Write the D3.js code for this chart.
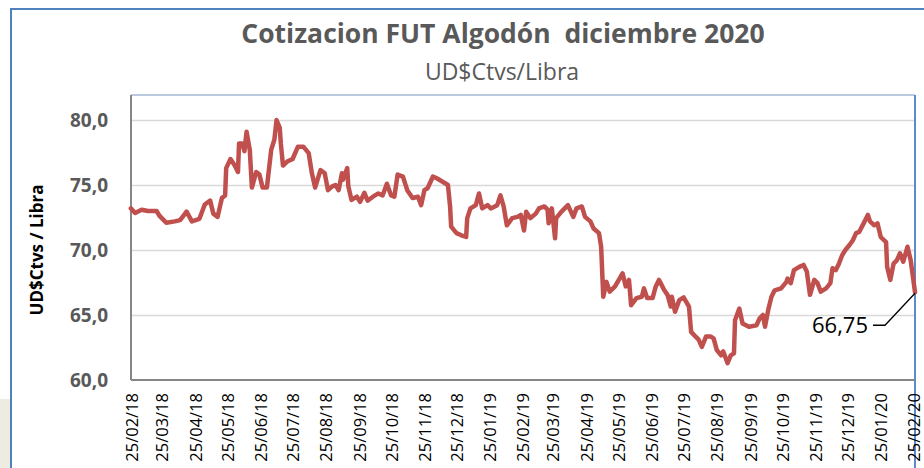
<!DOCTYPE html>
<html lang="es">
<head>
<meta charset="utf-8">
<title>Cotizacion FUT Algodón</title>
<script src="https://cdn.jsdelivr.net/npm/d3@7"></script>
<style>
  body { margin: 0; background: #ffffff; }
  text { font-family: "Open Sans", "Noto Sans", sans-serif; }
  .grille line { stroke: #d9d9d9; stroke-width: 1.5px; }
  .grille path { display: none; }
  .axeY path, .axeY line { display: none; }
  .axeY text { fill: #595959; font-size: 19px; font-weight: bold; }
  .axeX path, .axeX line { display: none; }
  .axeX text { fill: #000000; font-size: 16.5px; }
</style>
</head>
<body>
<svg width="924" height="468"></svg>
<script>
// dates (trading days) and values in UD$Ctvs/Libra
const fechas = [
  "2018-02-23","2018-02-27","2018-03-05","2018-03-11","2018-03-19","2018-03-22","2018-03-28","2018-04-05",
  "2018-04-10","2018-04-16","2018-04-21","2018-04-28","2018-05-03","2018-05-08","2018-05-11","2018-05-15",
  "2018-05-19","2018-05-22","2018-05-23","2018-05-27","2018-05-31","2018-06-03","2018-06-04","2018-06-07",
  "2018-06-09","2018-06-11","2018-06-14","2018-06-16","2018-06-20","2018-06-23","2018-06-26","2018-06-30",
  "2018-07-04","2018-07-07","2018-07-09","2018-07-12","2018-07-13","2018-07-15","2018-07-19","2018-07-24",
  "2018-07-29","2018-08-03","2018-08-08","2018-08-11","2018-08-14","2018-08-19","2018-08-23","2018-08-26",
  "2018-08-30","2018-09-02","2018-09-05","2018-09-08","2018-09-09","2018-09-13","2018-09-14","2018-09-17",
  "2018-09-22","2018-09-25","2018-09-29","2018-10-02","2018-10-07","2018-10-12","2018-10-16","2018-10-20",
  "2018-10-24","2018-10-27","2018-10-30","2018-11-04","2018-11-08","2018-11-13","2018-11-18","2018-11-21",
  "2018-11-24","2018-11-27","2018-12-02","2018-12-06","2018-12-11","2018-12-16","2018-12-18","2018-12-19",
  "2018-12-24","2018-12-28","2019-01-02","2019-01-03","2019-01-06","2019-01-11","2019-01-14","2019-01-17",
  "2019-01-22","2019-01-25","2019-01-31","2019-02-03","2019-02-06","2019-02-09","2019-02-14","2019-02-19",
  "2019-02-22","2019-02-25","2019-02-27","2019-03-03","2019-03-08","2019-03-11","2019-03-16","2019-03-19",
  "2019-03-20","2019-03-23","2019-03-26","2019-03-27","2019-04-01","2019-04-07","2019-04-12","2019-04-15",
  "2019-04-20","2019-04-23","2019-04-28","2019-05-01","2019-05-06","2019-05-08","2019-05-10","2019-05-13",
  "2019-05-16","2019-05-21","2019-05-28","2019-05-31","2019-06-03","2019-06-05","2019-06-10","2019-06-15",
  "2019-06-17","2019-06-20","2019-06-25","2019-06-28","2019-07-01","2019-07-06","2019-07-09","2019-07-12",
  "2019-07-13","2019-07-16","2019-07-20","2019-07-24","2019-07-29","2019-07-31","2019-08-04","2019-08-07",
  "2019-08-10","2019-08-14","2019-08-18","2019-08-21","2019-08-24","2019-08-28","2019-08-30","2019-09-03",
  "2019-09-06","2019-09-09","2019-09-10","2019-09-14","2019-09-17","2019-09-23","2019-09-30","2019-10-03",
  "2019-10-06","2019-10-08","2019-10-11","2019-10-14","2019-10-17","2019-10-23","2019-10-28","2019-10-29",
  "2019-11-01","2019-11-04","2019-11-09","2019-11-13","2019-11-16","2019-11-19","2019-11-23","2019-11-26",
  "2019-11-29","2019-12-04","2019-12-08","2019-12-10","2019-12-13","2019-12-16","2019-12-19","2019-12-22",
  "2019-12-26","2019-12-29","2020-01-01","2020-01-04","2020-01-09","2020-01-12","2020-01-14","2020-01-18",
  "2020-01-21","2020-01-24","2020-01-29","2020-01-30","2020-02-02","2020-02-05","2020-02-08","2020-02-11",
  "2020-02-14","2020-02-18","2020-02-21","2020-02-25"
];
const cotizacion = [
  73.2, 72.85, 73.1, 73.0, 73.0, 72.6, 72.1, 72.2,
  72.3, 72.95, 72.2, 72.4, 73.5, 73.8, 72.8, 72.55,
  74.0, 74.2, 76.3, 77.0, 76.5, 76.0, 78.2, 78.2,
  77.6, 79.1, 77.7, 74.8, 76.0, 75.8, 74.8, 74.8,
  77.7, 78.5, 80.0, 79.4, 78.2, 76.5, 76.8, 77.0,
  77.95, 77.95, 77.45, 75.9, 74.8, 76.15, 75.9, 74.6,
  74.9, 75.0, 74.6, 75.9, 75.4, 76.3, 74.9, 73.85,
  74.1, 73.7, 74.4, 73.8, 74.1, 74.35, 74.2, 75.1,
  74.2, 74.1, 75.8, 75.65, 74.6, 74.0, 74.1, 73.45,
  74.6, 74.75, 75.65, 75.5, 75.25, 75.0, 73.35, 71.8,
  71.3, 71.15, 71.0, 72.45, 73.2, 73.45, 74.35, 73.2,
  73.45, 73.2, 73.45, 74.2, 73.35, 71.9, 72.45, 72.55,
  72.7, 71.5, 72.95, 72.45, 72.8, 73.2, 73.35, 73.1,
  72.05, 73.2, 70.9, 72.45, 72.95, 73.45, 72.55, 73.2,
  73.35, 72.55, 72.2, 71.65, 71.3, 70.25, 66.4, 67.55,
  66.8, 67.2, 68.2, 67.2, 67.7, 65.75, 66.3, 66.4,
  67.05, 66.3, 66.3, 67.2, 67.7, 66.9, 66.55, 65.65,
  66.4, 65.25, 66.15, 66.35, 65.65, 63.7, 63.35, 63.1,
  62.55, 63.35, 63.35, 63.2, 62.3, 61.9, 62.2, 61.3,
  61.9, 62.05, 64.6, 65.5, 64.35, 64.1, 64.2, 64.75,
  65.0, 64.1, 65.4, 66.4, 66.9, 67.05, 67.55, 67.8,
  67.45, 68.45, 68.7, 68.85, 68.35, 66.55, 67.7, 67.45,
  66.8, 67.05, 67.45, 68.6, 68.45, 68.95, 69.6, 70.0,
  70.4, 70.75, 71.3, 71.4, 72.2, 72.7, 72.2, 71.9,
  72.05, 71.0, 70.6, 68.7, 67.7, 68.95, 69.2, 69.75,
  69.1, 70.25, 69.2, 66.75
];
const etiquetasX = [
  "25/02/18","25/03/18","25/04/18","25/05/18","25/06/18","25/07/18","25/08/18","25/09/18",
  "25/10/18","25/11/18","25/12/18","25/01/19","25/02/19","25/03/19","25/04/19","25/05/19",
  "25/06/19","25/07/19","25/08/19","25/09/19","25/10/19","25/11/19","25/12/19","25/01/20","25/02/20"
];
const ticksY = [60, 65, 70, 75, 80];
const titulo = "Cotizacion FUT Algodón  diciembre 2020";
const subtitulo = "UD$Ctvs/Libra";
const tituloY = "UD$Ctvs / Libra";
const etiquetaFinal = "66,75";

const parseISO = d3.timeParse("%Y-%m-%d");
const parseEtiqueta = d3.timeParse("%d/%m/%y");
const donnees = fechas.map((f, i) => ({ fecha: parseISO(f), valor: cotizacion[i] }));
const fechasTicks = etiquetasX.map(parseEtiqueta);

const svg = d3.select("svg");

// fond et cadre
svg.append("rect").attr("x", 0).attr("y", 399).attr("width", 10).attr("height", 69).attr("fill", "#eeece1");
svg.append("rect").attr("x", 11).attr("y", 9).attr("width", 930).attr("height", 480)
  .attr("fill", "#ffffff").attr("stroke", "#4f81bd").attr("stroke-width", 2);

const gauche = 131, droite = 915, haut = 95, bas = 380;

const x = d3.scaleTime()
  .domain([fechasTicks[0], fechasTicks[fechasTicks.length - 1]])
  .range([133, 915]);
const y = d3.scaleLinear().domain([60, 80]).range([bas, 120]);

const virgule = v => d3.format(".1f")(v).replace(".", ",");

// grille
svg.append("g")
  .classed("grille", true)
  .attr("transform", `translate(${gauche},0)`)
  .call(d3.axisLeft(y).tickValues(ticksY.slice(1)).tickFormat("").tickSize(-(droite - gauche)));

// cadre de la zone de tracé
svg.append("line").attr("x1", gauche).attr("x2", droite).attr("y1", haut).attr("y2", haut)
  .attr("stroke", "#a6b8d4").attr("stroke-width", 1.5);
svg.append("line").attr("x1", droite).attr("x2", droite).attr("y1", haut).attr("y2", 468)
  .attr("stroke", "#5b8bc9").attr("stroke-width", 2);
svg.append("line").attr("x1", gauche).attr("x2", gauche).attr("y1", haut).attr("y2", bas)
  .attr("stroke", "#868686").attr("stroke-width", 2);
svg.append("line").attr("x1", gauche).attr("x2", droite).attr("y1", bas).attr("y2", bas)
  .attr("stroke", "#868686").attr("stroke-width", 2);

// axe Y
svg.append("g")
  .classed("axeY", true)
  .attr("transform", `translate(${gauche},0)`)
  .call(d3.axisLeft(y).tickValues(ticksY).tickFormat(virgule).tickSize(0).tickPadding(23))
  .selectAll("text").attr("dy", "0.36em");

// axe X
svg.append("g")
  .classed("axeX", true)
  .attr("transform", `translate(0,${bas})`)
  .call(d3.axisBottom(x).tickValues(fechasTicks).tickFormat(d3.timeFormat("%d/%m/%y")).tickSize(0))
  .selectAll("text")
    .attr("transform", "rotate(-90)")
    .attr("text-anchor", "end")
    .attr("x", -13)
    .attr("y", -1)
    .attr("dy", "0.36em");

// courbe
const ligne = d3.line().x(d => x(d.fecha)).y(d => y(d.valor));
svg.append("path")
  .datum(donnees)
  .attr("d", ligne)
  .attr("fill", "none")
  .attr("stroke", "#c0504d")
  .attr("stroke-width", 4.5)
  .attr("stroke-linejoin", "round")
  .attr("stroke-linecap", "round");

// étiquette de la dernière valeur
const dernier = donnees[donnees.length - 1];
const px = x(dernier.fecha), py = y(dernier.valor);
svg.append("path")
  .attr("d", `M${px},${py + 1}L${px - 30},${py + 33}L${px - 42},${py + 33}`)
  .attr("fill", "none").attr("stroke", "#000").attr("stroke-width", 1.3);
svg.append("text")
  .attr("x", px - 47).attr("y", py + 41)
  .attr("text-anchor", "end")
  .style("font-size", "22px")
  .attr("fill", "#000")
  .text(etiquetaFinal);

// titres
svg.append("text")
  .attr("x", 503).attr("y", 43)
  .attr("text-anchor", "middle")
  .style("font-size", "26.5px").style("font-weight", "bold").style("white-space", "pre")
  .attr("fill", "#595959")
  .text(titulo);
svg.append("text")
  .attr("x", 502).attr("y", 80)
  .attr("text-anchor", "middle")
  .style("font-size", "23px")
  .attr("fill", "#595959")
  .text(subtitulo);
svg.append("text")
  .attr("transform", "translate(43,250) rotate(-90)")
  .attr("text-anchor", "middle")
  .style("font-size", "17px").style("font-weight", "bold")
  .attr("fill", "#000")
  .text(tituloY);
</script>
</body>
</html>
